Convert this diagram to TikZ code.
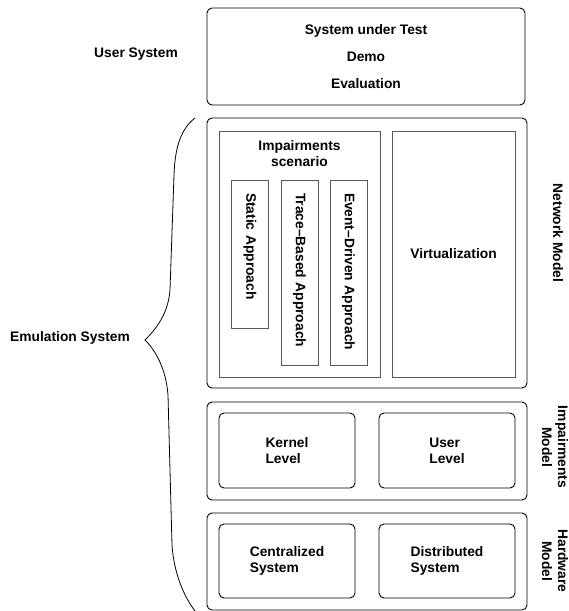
\documentclass[tikz,border=0pt]{standalone}
\usepackage{fontspec}
\setmainfont{Liberation Sans}
\definecolor{boxgray}{rgb}{0.35,0.35,0.35}

\begin{document}
\begin{tikzpicture}[x=1pt, y=-1pt,
	nodes={font=\bfseries\fontsize{13.8}{16}\selectfont},
	layer/.style={draw, line width=0.9pt, rounded corners=5pt, minimum width=320pt},
	part/.style={draw, line width=0.9pt, rounded corners=5pt, minimum width=136pt, align=left},
	frame/.style={draw=boxgray, line width=0.9pt, minimum height=246pt},
	approach/.style={draw=boxgray, line width=0.9pt, rotate=-90, minimum height=37pt, inner xsep=13pt, align=left},
	side/.style={rotate=-90, align=center}]
	\useasboundingbox (0,0) rectangle (569,611);

	% User system on top
	\node[layer, minimum width=318pt, minimum height=97pt, align=center] (sut) at (366,56.5) {System under Test\\[11pt]Demo\\[11pt]Evaluation};
	\node (usersys) at (136,54) {User System};

	% Network model
	\node[layer, minimum height=270pt] (netmodel) at (367,253) {};
	\node[frame, minimum width=161pt] (scen) at (299.5,254) {};
	\node[anchor=north, yshift=-6pt, align=center] (scentitle) at (scen.north) {Impairments\\scenario};
	\node[frame, minimum width=123pt] (virt) at (453.5,254) {Virtualization};
	\node[approach, text width=122pt] (static) at (250,254) {Static Approach};
	\node[approach, text width=159pt] (trace) at (299.5,272.5) {Trace--Based Approach};
	\node[approach, text width=159pt] (event) at (348.5,272.5) {Event--Driven Approach};
	\node[side] (netlbl) at (558,233) {Network Model};

	% Impairments model
	\node[layer, minimum height=98pt] (impmodel) at (367,451) {};
	\node[part, minimum height=75pt] (kernel) at (287,450.5) {Kernel\\Level};
	\node[part, minimum height=75pt] (userlvl) at (447,450.5) {User\\Level};
	\node[side] (implbl) at (555,447) {Impairments\\Model};

	% Hardware model
	\node[layer, minimum height=97pt] (hwmodel) at (367,561.5) {};
	\node[part, minimum height=74pt] (central) at (287,561) {Centralized\\System};
	\node[part, minimum height=74pt] (distrib) at (447,561) {Distributed\\System};
	\node[side] (hwlbl) at (555,561) {Hardware\\Model};

	% Brace for the emulation system
	\node (emul) at (70,338) {Emulation System};
	\draw[line width=0.8pt] (195,118) .. controls (182,128) and (175,145) .. (174,175)
		-- (170,290) .. controls (168,315) and (155,330) .. (145,340)
		.. controls (155,350) and (166,368) .. (168,395)
		-- (172,545) .. controls (174,575) and (185,598) .. (195,611);
\end{tikzpicture}
\end{document}
